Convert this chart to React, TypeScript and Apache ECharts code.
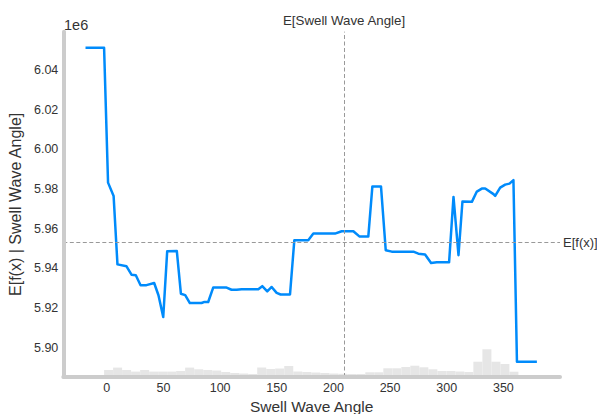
import React, { useEffect, useRef } from "react";
import * as echarts from "echarts";

// Swell Wave Angle (x) and expected model output E[f(x) | angle] in millions (y)
const angles = [
  -18.8, -2.4, 1.1, 6.0, 9.4, 17.4, 21.8, 25.6, 29.8, 35.0, 41.8, 45.6, 49.8, 53.3,
  61.8, 65.4, 69.2, 73.3, 83.6, 85.7, 89.5, 93.9, 105.7, 110.1, 114.6, 119.0, 133.7,
  137.2, 141.6, 145.5, 149.9, 153.4, 161.7, 165.5, 177.8, 182.3, 201.4, 207.3, 217.6,
  222.9, 230.8, 234.4, 242.0, 246.2, 251.5, 270.6, 275.0, 280.9, 286.2, 291.3, 302.1,
  306.0, 310.4, 313.9, 322.2, 326.6, 331.0, 334.0, 341.3, 342.8, 347.2, 351.6, 355.4,
  358.9, 362.0, 379.6,
];
const effects = [
  6.0512, 6.0512, 5.9832, 5.9765, 5.942, 5.941, 5.9368, 5.9365, 5.9315, 5.9315, 5.9326,
  5.9264, 5.9154, 5.9486, 5.9487, 5.9272, 5.9265, 5.9225, 5.9225, 5.923, 5.923, 5.9303,
  5.9303, 5.9292, 5.9292, 5.9295, 5.9295, 5.931, 5.9284, 5.9306, 5.9276, 5.9268, 5.9268,
  5.9541, 5.9541, 5.9575, 5.9575, 5.9587, 5.9587, 5.9561, 5.956, 5.9813, 5.9813, 5.9491,
  5.9484, 5.9484, 5.9474, 5.947, 5.9427, 5.943, 5.943, 5.976, 5.9466, 5.9737, 5.9735,
  5.9787, 5.9802, 5.9802, 5.9774, 5.9765, 5.9807, 5.9822, 5.9827, 5.9845, 5.8929, 5.8929,
];

// Histogram of the feature (relative frequencies)
const histStart = -2.4;
const histBinWidth = 7.95;
const histCounts = [
  7, 9.4, 7, 5.4, 7, 5.4, 5.4, 5.4, 6, 9.4, 7.7, 7, 6.5, 5, 4, 3.5, 3, 9.5, 8, 8.5, 11,
  5.5, 5, 4.5, 4, 3.5, 3.2, 3, 3, 4.7, 4.7, 8.7, 8.7, 10, 11.3, 9.7, 7.7, 6, 6, 5.5, 5,
  15.3, 27.7, 15.3, 13, 5.3,
];

const meanAngle = 209.4;
const meanEffect = 5.9529;

const xMin = -38.4;
const xMax = 400;
const yMin = 5.8852;
const yMax = 6.0593;

const FONT = "'Liberation Sans', Arial, sans-serif";

export default function App() {
  const ref = useRef<HTMLDivElement>(null);

  useEffect(() => {
    if (!ref.current) return;
    const chart = echarts.init(ref.current, undefined, { renderer: "svg" });

    const lineData = angles.map((a, i) => [a, effects[i]]);
    const histData = histCounts.map((c, i) => [
      histStart + i * histBinWidth,
      histStart + (i + 1) * histBinWidth,
      c,
    ]);

    const gridLeft = 63.3;
    const gridTop = 31.7;
    const gridRight = 560;
    const gridBottom = 377;

    chart.setOption({
      animation: false,
      textStyle: { fontFamily: FONT },
      grid: {
        left: gridLeft,
        top: gridTop,
        width: gridRight - gridLeft,
        height: gridBottom - gridTop,
        containLabel: false,
        outerBoundsMode: "none",
      },
      xAxis: {
        type: "value",
        min: xMin,
        max: xMax,
        splitNumber: 8,
        z: 5,
        name: "Swell Wave Angle",
        nameLocation: "middle",
        nameGap: 17,
        nameTextStyle: { fontSize: 15.5, color: "#333", fontFamily: FONT },
        axisLine: { show: true, onZero: false, lineStyle: { color: "#cccccc", width: 4 } },
        axisTick: { show: false },
        splitLine: { show: false },
        axisLabel: {
          fontSize: 12.5,
          color: "#333",
          margin: 4,
          fontFamily: FONT,
          formatter: (v: number) =>
            Math.abs(v % 50) < 1e-6 && v >= 0 && v <= 350 ? String(v) : "",
        },
      },
      yAxis: [
        {
          type: "value",
          min: yMin,
          max: yMax,
          splitNumber: 8,
          z: 5,
          name: "E[f(x) | Swell Wave Angle]",
          nameLocation: "middle",
          nameGap: 38,
          nameTextStyle: { fontSize: 16, color: "#333", fontFamily: FONT },
          axisLine: { show: true, onZero: false, lineStyle: { color: "#cccccc", width: 4 } },
          axisTick: { show: false },
          splitLine: { show: false },
          axisLabel: {
            fontSize: 12.5,
            color: "#333",
            margin: 5,
            fontFamily: FONT,
            formatter: (v: number) =>
              Math.abs(v * 50 - Math.round(v * 50)) < 1e-6 ? v.toFixed(2) : "",
          },
        },
        {
          type: "value",
          min: 0,
          max: gridBottom - gridTop,
          show: false,
        },
      ],
      graphic: [
        {
          type: "text",
          left: 64,
          top: 17,
          style: { text: "1e6", fontSize: 14.5, fill: "#333", fontFamily: FONT },
        },
      ],
      series: [
        {
          type: "custom",
          yAxisIndex: 1,
          z: 1,
          silent: true,
          data: histData,
          encode: { x: [0, 1], y: 2 },
          renderItem: (params: any, api: any) => {
            const lo = api.value(0);
            const hi = api.value(1);
            const h = api.value(2);
            const p0 = api.coord([lo, 0]);
            const p1 = api.coord([hi, h]);
            return {
              type: "rect",
              shape: { x: p0[0], y: p1[1], width: p1[0] - p0[0], height: p0[1] - p1[1] },
              style: { fill: "#e6e6e6" },
            };
          },
        },
        {
          type: "line",
          data: lineData,
          showSymbol: false,
          symbol: "none",
          z: 3,
          silent: true,
          lineStyle: { color: "#008bfb", width: 2.5, join: "round" },
          markLine: {
            silent: true,
            precision: 5,
            symbol: ["none", "none"],
            animation: false,
            lineStyle: { color: "#999999", width: 1, type: [4, 2.5] },
            emphasis: { disabled: true },
            data: [
              {
                xAxis: meanAngle,
                label: {
                  show: true,
                  position: "end",
                  distance: 5,
                  formatter: "E[Swell Wave Angle]",
                  fontSize: 13.3,
                  color: "#333",
                  fontFamily: FONT,
                },
              },
              {
                yAxis: meanEffect,
                label: {
                  show: true,
                  position: "end",
                  distance: 3,
                  formatter: "E[f(x)]",
                  fontSize: 13,
                  color: "#333",
                  fontFamily: FONT,
                },
              },
            ],
          },
        },
      ],
    });

    return () => chart.dispose();
  }, []);

  return (
    <div
      ref={ref}
      style={{ position: "fixed", left: 0, top: 0, width: 597, height: 414, background: "#fff" }}
    />
  );
}
